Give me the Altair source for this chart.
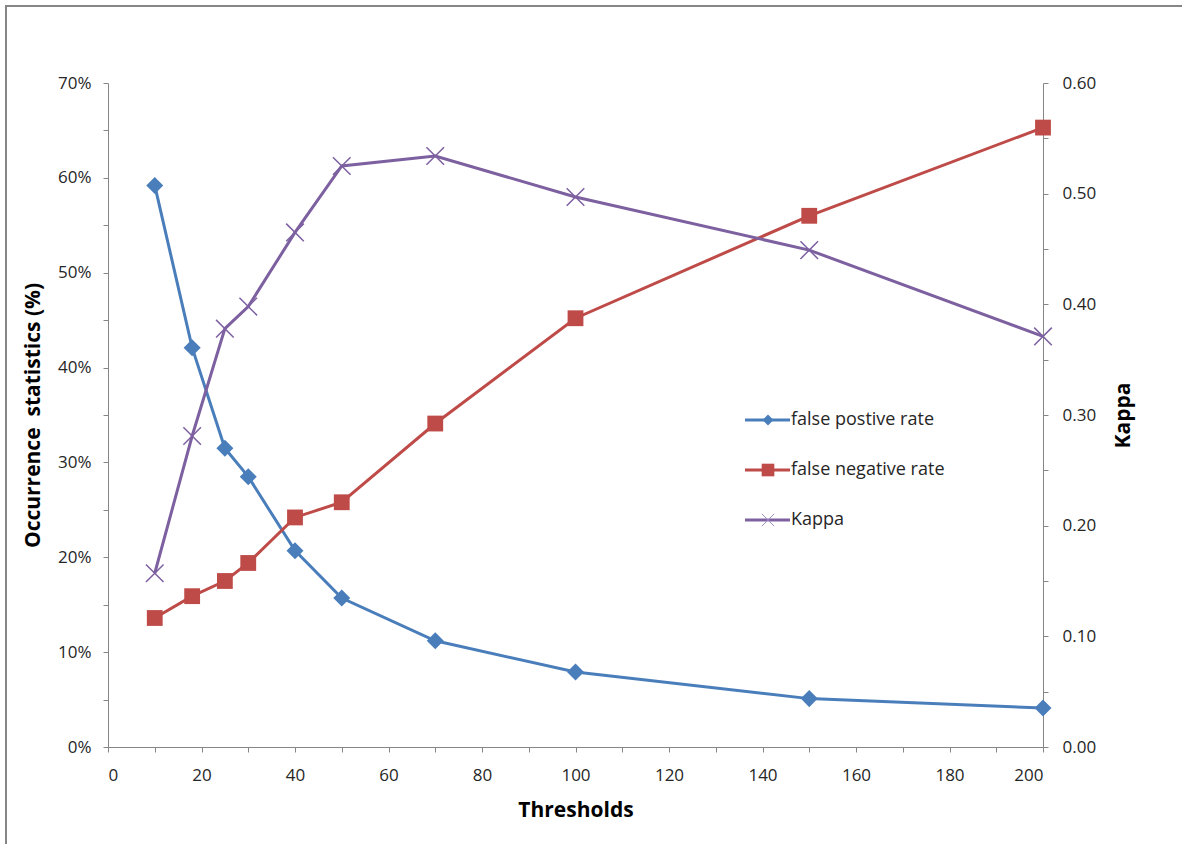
import altair as alt
import pandas as pd

thresholds = [10, 18, 25, 30, 40, 50, 70, 100, 150, 200]
false_positive = [0.592, 0.421, 0.315, 0.285, 0.207, 0.157, 0.112, 0.079, 0.051, 0.041]
false_negative = [0.136, 0.159, 0.175, 0.194, 0.242, 0.258, 0.341, 0.452, 0.560, 0.653]
kappa = [0.157, 0.281, 0.378, 0.398, 0.465, 0.525, 0.534, 0.497, 0.449, 0.371]

series_names = ["false postive rate", "false negative rate", "Kappa"]
series_colors = ["#4A7EBB", "#BE4B48", "#7D60A0"]

FONT = "Open Sans"
AXIS_GRAY = "#868686"
TEXT = "#262626"

left_df = pd.DataFrame({
    "threshold": thresholds * 2,
    "value": false_positive + false_negative,
    "series": [series_names[0]] * len(thresholds) + [series_names[1]] * len(thresholds),
})
kappa_df = pd.DataFrame({"threshold": thresholds, "value": kappa, "series": series_names[2]})
one_row = pd.DataFrame({"k": [0]})

x_enc = alt.X(
    "threshold:Q",
    scale=alt.Scale(domain=[0, 200], nice=False),
    axis=alt.Axis(
        values=list(range(0, 201, 10)),
        labelExpr="datum.value % 20 == 0 ? datum.label : ''",
        title="Thresholds",
        titleBaseline="middle",
        titleY=63,
        grid=False,
        tickSize=5,
        labelPadding=15,
    ),
)

y_left = alt.Y(
    "value:Q",
    scale=alt.Scale(domain=[0, 0.7], nice=False),
    axis=alt.Axis(
        values=[round(i * 0.05, 2) for i in range(15)],
        labelExpr="round(datum.value * 100) % 10 == 0 ? format(datum.value, '.0%') : ''",
        title="Occurrence\u00a0 statistics (%)",
        titleAngle=-90,
        titleBaseline="middle",
        titleX=-75,
        titleY=332,
        grid=False,
        tickSize=5,
        labelPadding=12,
    ),
)

y_right = alt.Y(
    "value:Q",
    scale=alt.Scale(domain=[0, 0.6], nice=False),
    axis=alt.Axis(
        orient="right",
        values=[round(i * 0.05, 2) for i in range(13)],
        labelExpr="round(datum.value * 100) % 10 == 0 ? format(datum.value, '.2f') : ''",
        title="Kappa",
        titleAngle=-90,
        titleBaseline="middle",
        titleX=80,
        titleY=332,
        grid=False,
        tickSize=5,
        labelPadding=14,
    ),
)

stroke_enc = alt.Stroke("series:N", scale=alt.Scale(domain=series_names, range=series_colors), legend=None)
fill_enc = alt.Fill("series:N", scale=alt.Scale(domain=series_names, range=series_colors), legend=None)

DIAMOND = "M0,-1L1,0L0,1L-1,0Z"
XMARK = "M-1,-1L1,1M-1,1L1,-1"

left_lines = alt.Chart(left_df).mark_line(strokeWidth=3).encode(
    x=x_enc, y=y_left, stroke=stroke_enc, detail="series:N"
)
fp_points = alt.Chart(left_df).transform_filter(
    alt.datum.series == series_names[0]
).mark_point(shape=DIAMOND, size=290, filled=True, opacity=1, strokeWidth=0).encode(
    x="threshold:Q", y="value:Q", fill=fill_enc
)
fn_points = alt.Chart(left_df).transform_filter(
    alt.datum.series == series_names[1]
).mark_point(shape="square", size=250, filled=True, opacity=1, strokeWidth=0).encode(
    x="threshold:Q", y="value:Q", fill=fill_enc
)

left = alt.layer(left_lines, fp_points, fn_points)

kappa_line = alt.Chart(kappa_df).mark_line(strokeWidth=3).encode(
    x=x_enc, y=y_right, stroke=stroke_enc
)
kappa_points = alt.Chart(kappa_df).mark_point(
    shape=XMARK, size=310, filled=False, strokeWidth=1.5, opacity=1
).encode(x="threshold:Q", y="value:Q", stroke=stroke_enc)

right = alt.layer(kappa_line, kappa_points)

# hand-placed legend (line + marker + label), like the original
legend_parts = []
leg_shapes = [(DIAMOND, 120, True), ("square", 160, True), (XMARK, 150, False)]
for i, (name, col) in enumerate(zip(series_names, series_colors)):
    yy = 337 + 50 * i
    shp, sz, fil = leg_shapes[i]
    legend_parts.append(
        alt.Chart(one_row).mark_rule(color=col, strokeWidth=3).encode(
            x=alt.value(637), x2=alt.value(682), y=alt.value(yy)
        )
    )
    if fil:
        legend_parts.append(
            alt.Chart(one_row).mark_point(shape=shp, size=sz, filled=True, color=col,
                                          opacity=1, strokeWidth=0).encode(
                x=alt.value(660), y=alt.value(yy)
            )
        )
    else:
        legend_parts.append(
            alt.Chart(one_row).mark_point(shape=shp, size=sz, filled=False, color="#A08CC0",
                                          opacity=1, strokeWidth=1).encode(
                x=alt.value(660), y=alt.value(yy)
            )
        )
    legend_parts.append(
        alt.Chart(one_row).mark_text(align="left", baseline="middle", font=FONT,
                                     fontSize=18, color=TEXT).encode(
            x=alt.value(683), y=alt.value(yy), text=alt.value(name)
        )
    )

# outer frame of the chart area (decoration)
frame_top = alt.Chart(one_row).mark_rule(color=AXIS_GRAY, strokeWidth=2).encode(
    x=alt.value(-102), x2=alt.value(1100), y=alt.value(-77)
)
frame_left = alt.Chart(one_row).mark_rule(color=AXIS_GRAY, strokeWidth=2).encode(
    x=alt.value(-102), y=alt.value(-78), y2=alt.value(800)
)

chart = alt.layer(left, right, *legend_parts, frame_top, frame_left).resolve_scale(
    y="independent"
).properties(
    width=935,
    height=664,
    padding={"left": 108, "top": 83, "right": 139, "bottom": 97},
    autosize=alt.AutoSizeParams(type="none"),
    background="white",
).configure_view(stroke=None).configure_axis(
    domainColor=AXIS_GRAY,
    tickColor=AXIS_GRAY,
    domainWidth=1,
    labelFont=FONT,
    labelFontSize=17,
    labelColor=TEXT,
    titleFont=FONT,
    titleFontSize=21,
    titleFontWeight="bold",
    titleColor="#000000",
)

chart.save("out.html", embed_options={"renderer": "svg", "actions": False})
